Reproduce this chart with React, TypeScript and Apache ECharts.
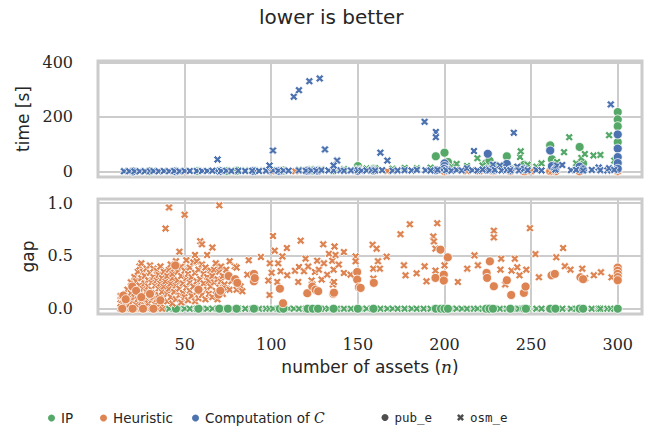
import React, { useEffect, useRef } from "react";
import * as echarts from "echarts";

const BLUE = "#4C72B0";
const ORANGE = "#DD8452";
const GREEN = "#55A868";
const TEXT = "#262626";
const GRIDC = "#cccccc";
const X_PATH = "path://M0,5 L5,0 L10,5 L15,0 L20,5 L15,10 L20,15 L15,20 L10,15 L5,20 L0,15 L5,10 Z";

const titleText = "lower is better";
const xTicks = [50, 100, 150, 200, 250, 300];
const timeTicks = [0, 200, 400];
const gapTicks = [0, 0.5, 1.0];

// ---- top panel: time [s] ----
const ipTimeOsm = [
  [15,1],[21,1],[27,1],[32,2],[38,2],[44,2],[50,3],[57,3],[63,3],[71,4],[77,4],[85,5],[93,5],[101,6],[107,6],
  [116,7],[123,8],[129,8],[136,9],[142,9],[150,10],[155,11],[160,12],[170,10],[177,13],[184,12],[192,14],
  [204,18],[207,28],[213,20],[219,49],[222,22],[229,24],[233,18],[243.6,53],[244,74],[248,25],[253,18],
  [256,30],[265,35],[269,71],[272,126],[276,30],[279,50],[281,64],[286,59],[290,61],[295,133],[298,40]
];
const ipTimePub = [
  [20,1],[30,1],[45,1],[58,2],[70,2],[75,2],[80,3],[90,3],[105,3],[107,4],[121,4],[124,4],[127,5],[136,5],
  [150,20],[159,10],[195,56],[200,69],[202,35],[224,30],[226,40],[228,15],[236,56],[238,10],[246,25],
  [261,96],[262,45],[264,25],[278,90],[280,30],[300,218],[300,191],[300,166],[300,108]
];
const heurTimeOsm = [
  [50,0.5],[100,1],[113.8,1],[150,1],[167,2],[200,1],[213,1],[220,1],[228,1],[250,1],[262,1],[300,2]
];
const heurTimePub = [
  [200,1],[228,1],[238,1],[246,1],[261,1],[264,1],[278,1],[300,1]
];
const cTimeOsm = [
  [15,1],[18,1],[21,1],[24,1],[27,1],[30,1],[32,2],[35,1],[38,2],[41,1],[44,2],[47,1],[50,2],[53,2],[57,2],
  [60,2],[63,2],[66,3],[71,2],[74,3],[77,2],[81,3],[85,2],[89,3],[93,2],[97,3],[101,4],[104,3],[107,4],
  [110,3],[116,4],[120,3],[123,4],[126,3],[129,5],[133,4],[136,4],[140,5],[142,3],[146,4],[150,5],[152,3],
  [155,4],[158,5],[160,4],[164,5],[170,3],[173,4],[177,5],[181,4],[184,6],[189,5],[192,4],[196,6],[201,5],
  [204,3],[207,6],[210,4],[213,12],[216,5],[219,4],[222,7],[226,5],[228,25],[229,6],[232,22],[233,4],
  [236,6],[238,5],[242,18],[243,4],[246,10],[248,5],[253,6],[256,4],[264,7],[265,22],[268,24],[273,5],
  [276,6],[280,4],[285,6],[289,15],[290,5],[294,4],[295,12],[298,6],
  [69,44],[101,77],[99,22],[113,274],[116,298],[122,331],[128,341],[131,81],[138,40],[136,22],[163,69],
  [167,40],[188.5,182],[195,145],[195,126],[217,75],[240,142],[296,246]
];
const cTimePub = [
  [20,0.5],[45,1],[70,2],[90,2],[105,2],[121,3],[127,3],[150,3],[159,4],[195,5],[200,30],[200,20],[200,10],
  [202,6],[224,7],[225,65],[228,6],[236,28],[238,5],[246,8],[261,77],[262,20],[264,9],[278,18],[280,8],
  [300,136],[300,84],[300,53],[300,31],[300,10]
];

// ---- bottom panel: gap ----
const ipGapOsm = [
  [38,0],[41,0],[44,0],[47,0],[50,0],[53,0],[57,0],[60,0],[63,0],[66,0],[69,0],[71,0],[74,0],[77,0],[81,0],
  [85,0],[89,0],[93,0],[97,0],[99,0],[101,0],[104,0],[107,0],[110,0],[113,0],[116,0],[120,0],[123,0],[126,0],
  [128,0],[131,0],[133,0],[136,0],[138,0],[142,0],[146,0],[150,0],[152,0],[155,0],[158,0],[160,0],[163,0],
  [167,0],[170,0],[173,0],[177,0],[181,0],[184,0],[188,0],[192,0],[195,0],[196,0],[201,0],[204,0],[207,0],
  [210,0],[213,0],[217,0],[219,0],[222,0],[226,0],[228,0],[229,0],[232,0],[236,0],[240,0],[242,0],[243,0],
  [246,0],[248,0],[253,0],[256,0],[264,0],[265,0],[268,0],[273,0],[276,0],[280,0],[285,0],[289,0],[290,0],
  [294,0],[296,0],[298,0]
];
const ipGapPub = [
  [45,0],[58,0],[70,0],[75,0],[80,0],[90,0],[105,0],[107,0],[121,0],[124,0],[127,0],[136,0],[150,0],[159,0],
  [195,0],[198,0],[200,0],[202,0],[224,0],[226,0],[228,0],[238,0],[246,0],[247,0],[261,0],[264,0],[278,0],
  [280,0],[300,0]
];
const heurGapOsm = [
  [13,0],[15,0],[17,0],[19,0],[21,0],[23,0],[25,0],[27,0],[29,0],[31,0],[33,0],[35,0],[37,0],
  [13,0.05],[13,0.12],[14,0.08],[15,0.10],[15,0.03],[16,0.14],[16,0.06],[17,0.18],[17,0.09],[18,0.04],[18,0.12],
  [19,0.15],[19,0.25],[20,0.07],[20,0.20],[21,0.11],[21,0.30],[22,0.04],[22,0.18],[22,0.26],[23,0.09],[23,0.35],
  [24,0.14],[24,0.22],[24,0.40],[25,0.06],[25,0.29],[25,0.43],[26,0.12],[26,0.19],[26,0.35],[27,0.03],[27,0.24],
  [27,0.31],[28,0.09],[28,0.16],[28,0.38],[29,0.27],[29,0.05],[29,0.21],[30,0.13],[30,0.34],[30,0.41],[31,0.08],
  [31,0.25],[31,0.18],[32,0.30],[32,0.11],[32,0.38],[33,0.04],[33,0.22],[33,0.15],[34,0.36],[34,0.27],[34,0.09],
  [35,0.19],[35,0.13],[35,0.32],[36,0.05],[36,0.24],[36,0.40],[37,0.29],[37,0.16],[38,0.10],[38,0.35],[38,0.21],
  [39,0.76],[39,0.26],[40,0.07],[40,0.31],[40,0.14],[41,0.96],[41,0.19],[41,0.37],[42,0.24],[42,0.42],[42,0.11],
  [43,0.05],[43,0.29],[43,0.33],[44,0.16],[44,0.38],[45,0.22],[45,0.09],[45,0.45],[46,0.35],[46,0.27],[47,0.54],
  [47,0.13],[47,0.19],[48,0.31],[48,0.06],[48,0.40],[49,0.24],[49,0.15],[50,0.89],[50,0.36],[50,0.11],[51,0.46],
  [51,0.20],[51,0.29],[52,0.08],[52,0.33],[53,0.25],[53,0.17],[53,0.39],[54,0.12],[54,0.30],[55,0.21],[55,0.44],
  [56,0.51],[56,0.34],[56,0.07],[57,0.26],[57,0.16],[57,0.45],[58,0.10],[58,0.37],[59,0.64],[59,0.28],[59,0.20],
  [60,0.61],[60,0.42],[60,0.13],[61,0.33],[61,0.24],[62,0.09],[62,0.39],[63,0.51],[63,0.18],[63,0.30],[64,0.26],
  [64,0.14],[65,0.36],[65,0.21],[66,0.58],[66,0.11],[66,0.31],[67,0.37],[67,0.25],[68,0.17],[68,0.43],[69,0.28],
  [69,0.09],[70,0.98],[70,0.20],[70,0.35],[71,0.26],[71,0.40],[72,0.14],[72,0.31],[73,0.23],[74,0.37],[74,0.19],
  [76,0.18],[76,0.45],[77,0.26],[79,0.40],[80,0.39],[80,0.18],
  [82.3,0.213],[83.3,0.166],[86.2,0.323],[87,0.46],[94,0.49],[98.3,0.267],[99,0.13],[99.2,0.43],[100.2,0.34],
  [101,0.69],[102,0.55],[103.5,0.254],[104,0.43],[105.4,0.355],[106.4,0.496],[109,0.575],[109.2,0.317],
  [113.7,0.36],[115.6,0.254],[116,0.395],[117,0.645],[118.9,0.355],[119.8,0.474],[121.3,0.40],[123.3,0.267],
  [123.7,0.229],[125.2,0.348],[126.5,0.455],[127.5,0.37],[129.1,0.276],[130,0.61],[130.4,0.43],[132.3,0.323],
  [133.3,0.52],[135.2,0.455],[135.6,0.229],[136,0.37],[136.2,0.254],[136.5,0.59],[137.1,0.51],[139,0.418],
  [141.9,0.537],[141.9,0.339],[145.8,0.323],[148.7,0.496],[148.7,0.45],[158.5,0.606],[160.8,0.569],
  [161.6,0.449],[158.9,0.38],[162.7,0.38],[158.9,0.286],[166.6,0.493],[174.6,0.707],[176.6,0.411],
  [177.5,0.317],[180,0.80],[183.9,0.336],[188.5,0.402],[189.6,0.26],[193.5,0.685],[193.9,0.638],[194.8,0.569],
  [194.8,0.361],[195.8,0.81],[200,0.411],[207.7,0.254],[213.1,0.38],[217.3,0.506],[219.3,0.411],[228.5,0.74],
  [228.5,0.676],[232.3,0.37],[232.7,0.474],[235,0.23],[238.7,0.361],[240.6,0.474],[242,0.393],[243.3,0.317],
  [247.2,0.37],[249.3,0.763],[252.5,0.518],[254.5,0.298],[264.5,0.487],[268.5,0.575],[269.5,0.402],
  [272.7,0.37],[279.5,0.38],[281.2,0.29],[286.2,0.317],[290.3,0.345],[296.4,0.298]
];
const heurGapPub = [
  [14,0],[20,0],[26,0],[32,0],
  [14.6,0.125],[16,0.09],[19.8,0.21],[22,0.17],[25,0.11],[30,0.14],[36,0.08],[44.6,0.41],[58,0.18],
  [69.6,0.135],[70.6,0.17],[75.4,0.31],[79.2,0.28],[80.4,0.245],[90,0.33],[90,0.26],[90.5,0.29],[105,0.19],
  [106.8,0.052],[120.8,0.147],[123.7,0.21],[125.6,0.18],[127.1,0.166],[135.8,0.141],[136.2,0.152],
  [149.6,0.348],[149.6,0.276],[150.6,0.204],[151.6,0.197],[159.2,0.245],[194.8,0.292],[197.7,0.56],
  [199.6,0.323],[199.6,0.267],[201.9,0.487],[224.3,0.339],[224.6,0.292],[226.2,0.449],[228.5,0.213],
  [236,0.27],[238.5,0.13],[245.8,0.15],[246.8,0.21],[261.8,0.317],[263.7,0.33],[278.5,0.298],[280,0.28],
  [300,0.39],[300,0.36],[300,0.33],[300,0.30],[300,0.27]
];

function scatter(name: string, data: number[][], shape: string, color: string, idx: number, extra: any = {}) {
  return {
    type: "scatter",
    name,
    data,
    xAxisIndex: idx,
    yAxisIndex: idx,
    symbol: shape === "x" ? X_PATH : "circle",
    symbolSize: shape === "x" ? 8 : 9,
    itemStyle: { color, borderColor: "#ffffff", borderWidth: 0.8, opacity: 1 },
    emphasis: { disabled: true },
    silent: true,
    ...extra,
  };
}

function gridLines(yTicks: number[]) {
  return {
    silent: true,
    symbol: ["none", "none"],
    z: 1,
    label: { show: false },
    emphasis: { disabled: true },
    lineStyle: { color: GRIDC, width: 2, type: "solid" },
    data: [...yTicks.map((v) => ({ yAxis: v })), ...xTicks.map((v) => ({ xAxis: v }))],
  };
}

const tickFont = { fontFamily: "DejaVu Serif", fontSize: 16, color: TEXT };
const nameFont = { fontFamily: "DejaVu Sans", fontSize: 17, color: TEXT };
const legendFont = { fontFamily: "DejaVu Sans", fontSize: 13.5, color: TEXT };
const monoFont = { fontFamily: "DejaVu Sans Mono", fontSize: 12.5, color: TEXT };

function legendItem(name: string, icon: string, left: number, textStyle: any, extra: any = {}) {
  return {
    data: [{ name, icon }],
    left,
    top: 406,
    itemWidth: 9,
    itemHeight: 7,
    selectedMode: false,
    itemStyle: { borderWidth: 0 },
    textStyle,
    ...extra,
  };
}

export default function App() {
  const ref = useRef<HTMLDivElement>(null);
  useEffect(() => {
    document.body.style.margin = "0";
    if (!ref.current) return;
    const chart = echarts.init(ref.current, null, { renderer: "svg" });
    const xAxisBase = {
      type: "value",
      min: 0,
      max: 314,
      interval: 50,
      axisLine: { show: false },
      axisTick: { show: false },
      splitLine: { show: false },
    };
    chart.setOption({
      animation: false,
      title: {
        text: titleText,
        left: 254,
        top: 2,
        textStyle: { fontFamily: "DejaVu Sans", fontSize: 20, fontWeight: "normal", color: TEXT },
      },
      grid: [
        { left: 98, right: 23, top: 61, height: 116, show: true, borderColor: GRIDC, borderWidth: 3, backgroundColor: "transparent" },
        { left: 98, right: 23, top: 199, height: 115, show: true, borderColor: GRIDC, borderWidth: 3, backgroundColor: "transparent" },
      ],
      xAxis: [
        { ...xAxisBase, gridIndex: 0, axisLabel: { show: false } },
        {
          ...xAxisBase,
          gridIndex: 1,
          axisLabel: {
            ...tickFont,
            margin: 22,
            formatter: (v: number) => (xTicks.includes(v) ? String(v) : ""),
          },
          name: "number of assets ({i|n})",
          nameLocation: "middle",
          nameGap: 44,
          nameTextStyle: {
            ...nameFont,
            rich: { i: { fontFamily: "DejaVu Serif", fontStyle: "italic", fontSize: 17, color: TEXT } },
          },
        },
      ],
      yAxis: [
        {
          type: "value",
          gridIndex: 0,
          min: -20,
          max: 405,
          interval: 20,
          axisLine: { show: false },
          axisTick: { show: false },
          splitLine: { show: false },
          axisLabel: {
            ...tickFont,
            margin: 25,
            formatter: (v: number) => (timeTicks.some((t) => Math.abs(t - v) < 1e-6) ? String(Math.round(v)) : ""),
          },
          name: "time [s]",
          nameLocation: "middle",
          nameGap: 65,
          nameTextStyle: nameFont,
        },
        {
          type: "value",
          gridIndex: 1,
          min: -0.05,
          max: 1.04,
          interval: 0.05,
          axisLine: { show: false },
          axisTick: { show: false },
          splitLine: { show: false },
          axisLabel: {
            ...tickFont,
            margin: 25,
            formatter: (v: number) => (gapTicks.some((t) => Math.abs(t - v) < 1e-6) ? v.toFixed(1) : ""),
          },
          name: "gap",
          nameLocation: "middle",
          nameGap: 61,
          nameTextStyle: nameFont,
        },
      ],
      legend: [
        legendItem("IP", "circle", 43, legendFont),
        legendItem("Heuristic", "circle", 95, legendFont),
        legendItem("Computation of C", "circle", 187, {
          ...legendFont,
          rich: { i: { fontFamily: "DejaVu Serif", fontStyle: "italic", fontSize: 14, color: TEXT } },
        }, { formatter: () => "Computation of {i|C}" }),
        legendItem("pub_e", "circle", 376.5, monoFont),
        legendItem("osm_e", X_PATH, 452, monoFont),
      ],
      series: [
        scatter("IP", ipTimePub, "o", GREEN, 0, { markLine: gridLines(timeTicks) }),
        scatter("IP", ipTimeOsm, "x", GREEN, 0),
        scatter("Heuristic", heurTimePub, "o", ORANGE, 0),
        scatter("Heuristic", heurTimeOsm, "x", ORANGE, 0),
        scatter("Computation of C", cTimePub, "o", BLUE, 0),
        scatter("Computation of C", cTimeOsm, "x", BLUE, 0),
        scatter("IP", ipGapOsm, "x", GREEN, 1, { markLine: gridLines(gapTicks) }),
        scatter("IP", ipGapPub, "o", GREEN, 1),
        scatter("Heuristic", heurGapOsm, "x", ORANGE, 1),
        scatter("Heuristic", heurGapPub, "o", ORANGE, 1),
        scatter("pub_e", [], "o", "#222222", 0, { itemStyle: { color: "#222222" } }),
        scatter("osm_e", [], "x", "#222222", 0, { itemStyle: { color: "#222222" } }),
      ],
    });
    return () => chart.dispose();
  }, []);
  return <div ref={ref} style={{ width: 665, height: 430 }} />;
}
